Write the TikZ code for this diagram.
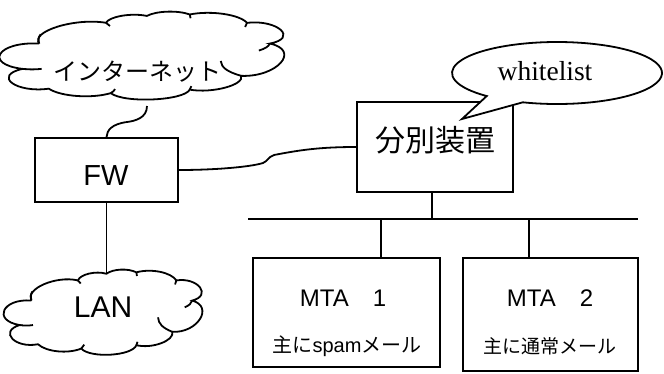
\documentclass[tikz,border=0pt]{standalone}
\usepackage{fontspec}
\usetikzlibrary{calc}
\setmainfont{Liberation Sans}
\newfontfamily\jp{Noto Sans CJK JP}
\newfontfamily\tms{Liberation Serif}
\newcommand\mycloud[4]{%
  \begin{scope}[shift={(#1,-#2)}, xscale=#3/100, yscale=#4/100]
    \draw[cloudline] (9.9,-34.6) to[bend right=85, looseness=1.5] (3.6,-60.7)
      to[bend right=85, looseness=1.5] (13.5,-81.1)
      to[bend right=50] (36.9,-85.7)
      to[bend right=72] (66.7,-82.1)
      to[bend right=62] (86.1,-67.9)
      to[bend right=78] (96.9,-34.6)
      to[bend right=85, looseness=1.35] (88.3,-13.2)
      to[bend right=50] (66.7,-4.6)
      to[bend right=50] (50.5,-6.1)
      to[bend right=55] (35.1,-13.2)
      to[bend right=65] (9.9,-34.6);
    \draw[cloudline] (3.6,-60.7) to[bend right=15] (10.8,-60.7);
    \draw[cloudline] (86.1,-67.9) to[bend left=25] (78.4,-52.5);
    \draw[cloudline] (96.9,-34.6) to[bend left=20] (92.8,-41.8);
    \draw[cloudline] (9.9,-34.6) to[bend left=10] (10.4,-25);
    \draw[cloudline] (36.9,-85.7) to[bend right=10] (38.5,-81.5);
    \draw[cloudline] (66.7,-82.1) -- (67.3,-78.5);
    \draw[cloudline] (88.3,-13.2) -- (87.6,-17.5);
    \draw[cloudline] (66.7,-4.6) -- (67,-8.5);
    \draw[cloudline] (35.1,-13.2) -- (36.6,-16.5);
  \end{scope}}
\begin{document}
\begin{tikzpicture}[x=1pt, y=1pt,
  cloudline/.style={line width=1.8pt},
  box/.style={draw, line width=1.9pt, inner sep=0pt},
  wire/.style={line width=1.8pt},
  lbl/.style={inner sep=0pt}]
\useasboundingbox (0,0) rectangle (664,-373);

% clouds
\mycloud{13}{10}{265}{97}
\mycloud{13}{268}{185}{94}
\coordinate (inetb) at (147,-106);
\coordinate (lant) at (106.5,-273.5);
\node[lbl] (inettext) at (137,-72) {\jp\fontsize{24}{28}\selectfont インターネット};
\node[lbl] (lantext) at (103,-307) {\fontsize{30}{34}\selectfont LAN};

% boxes
\node[box, minimum width=143pt, minimum height=64pt] (fw) at (106.5,-170) {};
\node[lbl] (fwtext) at (106,-176) {\fontsize{29}{34}\selectfont FW};
\node[box, minimum width=156pt, minimum height=90pt] (sorter) at (435,-147) {};
\node[lbl] (sortertext) at (435,-140) {\jp\fontsize{30}{34}\selectfont 分別装置};
\node[box, minimum width=187pt, minimum height=109pt] (mta1) at (346.5,-312.5) {};
\node[lbl] (mta1a) at (343,-298) {\fontsize{24}{28}\selectfont MTA\hspace{24pt}1};
\node[lbl] (mta1b) at (347,-346) {\fontsize{20}{24}\selectfont{\jp 主に}spam{\jp メール}};
\node[box, minimum width=175pt, minimum height=113pt] (mta2) at (550.5,-314.5) {};
\node[lbl] (mta2a) at (550,-298) {\fontsize{24}{28}\selectfont MTA\hspace{24pt}2};
\node[lbl] (mta2b) at (550,-346) {\jp\fontsize{19}{23}\selectfont 主に通常メール};

% callout
\coordinate (wlc) at (557,-73);
\coordinate (wltip) at (462,-119);
\draw[line width=1.8pt, fill=white] ($(wlc)+(251:105 and 31)$) arc[start angle=251, end angle=588, x radius=105, y radius=31] -- (wltip) -- cycle;
\node[lbl] (wl) at (545,-71) {\tms\fontsize{27.5}{30}\selectfont whitelist};

% connectors
\draw[wire] (inetb) .. controls (147,-118) and (135,-121) .. (127,-122)
  .. controls (112,-124) and (107,-130) .. (fw.north);
\draw[wire] (fw.south) -- (lant);
\draw[wire] (fw.east) .. controls (215,-170) and (250,-167) .. (263,-163)
  .. controls (268,-161) and (268,-157) .. (274,-155)
  .. controls (300,-150) and (320,-147) .. (sorter.west);
\coordinate (busL) at (248,-219);
\coordinate (busR) at (638,-219);
\coordinate (busS) at (432,-219);
\coordinate (bus1) at (381,-219);
\coordinate (bus2) at (529,-219);
\draw[wire] (busL) -- (busR);
\draw[wire] (sorter.south -| busS) -- (busS);
\draw[wire] (bus1) -- (bus1 |- mta1.north);
\draw[wire] (bus2) -- (bus2 |- mta2.north);
\end{tikzpicture}
\end{document}
